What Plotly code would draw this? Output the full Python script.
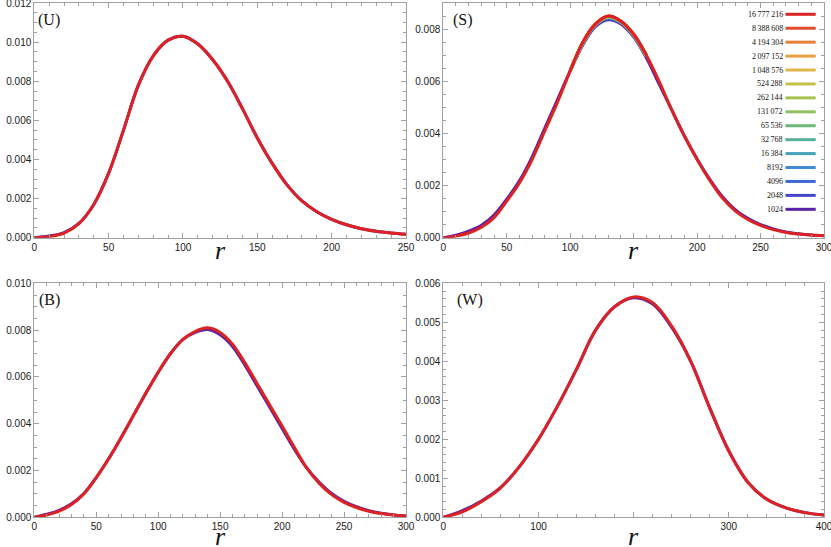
import plotly.graph_objects as go

# ---------------- data ----------------
sizes = ["1024", "2048", "4096", "8192", "16\u2009384", "32\u2009768", "65\u2009536", "131\u2009072",
         "262\u2009144", "524\u2009288", "1\u2009048\u2009576", "2\u2009097\u2009152", "4\u2009194\u2009304",
         "8\u2009388\u2009608", "16\u2009777\u2009216"]
colors = ["#5a22a8", "#4646c8", "#3a6ad6", "#3f8ad2", "#45a2ba", "#52b29a", "#6cb878", "#8ec05e",
          "#a8c44e", "#c6c046", "#e0b646", "#eaa040", "#e88038", "#e04c2c", "#dc2222"]

# (U)
U_r = [0, 10, 20, 30, 40, 50, 60, 70, 80, 90, 100, 110, 120, 130, 140, 150, 160, 170, 180, 190,
       200, 210, 220, 230, 240, 250]
U_big = [0, 0.00005, 0.00023, 0.00072, 0.0017, 0.0033, 0.0055, 0.0078, 0.0093, 0.0101, 0.0103,
         0.0099, 0.0091, 0.0080, 0.0066, 0.0051, 0.0038, 0.0027, 0.00188, 0.00133, 0.00094,
         0.00066, 0.00046, 0.00033, 0.00024, 0.00017]
U_small = [0, 0.00009, 0.00026, 0.00073, 0.0017, 0.0033, 0.0055, 0.0078, 0.0093, 0.0101, 0.0103,
           0.0099, 0.0091, 0.0080, 0.0066, 0.0051, 0.0038, 0.0027, 0.00188, 0.00133, 0.00094,
           0.00066, 0.00046, 0.00033, 0.00024, 0.00017]

# (S)
S_r = [0, 10, 20, 30, 40, 50, 60, 70, 80, 90, 100, 110, 120, 130, 140, 150, 160, 170, 180, 190,
       200, 210, 220, 230, 240, 250, 260, 270, 280, 290, 300]
S_big = [0, 0.00006, 0.00018, 0.0004, 0.00077, 0.0014, 0.0021, 0.0030, 0.0041, 0.0052, 0.0064,
         0.0075, 0.0082, 0.0085, 0.0083, 0.0078, 0.0070, 0.0060, 0.0049, 0.0039, 0.0030, 0.0022,
         0.00152, 0.00103, 0.0007, 0.00047, 0.00031, 0.0002, 0.00014, 0.0001, 0.00007]
S_small = [0, 0.0001, 0.00025, 0.00048, 0.00087, 0.00148, 0.00218, 0.0031, 0.0042, 0.0053, 0.0064,
           0.0074, 0.0081, 0.00836, 0.0082, 0.0077, 0.0069, 0.0059, 0.0049, 0.0039, 0.00302,
           0.00224, 0.00157, 0.00108, 0.00074, 0.0005, 0.00034, 0.00022, 0.00015, 0.0001, 0.00007]
S_mid_r = [100, 110, 120, 130, 140, 150, 160]
S_mid = [
    [0.0064, 0.00742, 0.00813, 0.00839, 0.00822, 0.00772, 0.00692],
    [0.0064, 0.00744, 0.00815, 0.00841, 0.00824, 0.00774, 0.00694],
    [0.0064, 0.00745, 0.00816, 0.00843, 0.00825, 0.00775, 0.00695],
    [0.0064, 0.00746, 0.00817, 0.00844, 0.00826, 0.00776, 0.00696],
    [0.0064, 0.00747, 0.00818, 0.00845, 0.00827, 0.00777, 0.00697],
    [0.0064, 0.00748, 0.00818, 0.00846, 0.00828, 0.00778, 0.00698],
    [0.0064, 0.00748, 0.00819, 0.00847, 0.00828, 0.00778, 0.00698],
    [0.0064, 0.00749, 0.00819, 0.00847, 0.00829, 0.00779, 0.00699],
    [0.0064, 0.00749, 0.00819, 0.00848, 0.00829, 0.00779, 0.00699],
    [0.0064, 0.0075, 0.0082, 0.00848, 0.0083, 0.0078, 0.0070],
    [0.0064, 0.0075, 0.0082, 0.00849, 0.0083, 0.0078, 0.0070],
    [0.0064, 0.0075, 0.0082, 0.00849, 0.0083, 0.0078, 0.0070],
    [0.0064, 0.0075, 0.0082, 0.0085, 0.0083, 0.0078, 0.0070],
]

# (B)
B_r = [0, 10, 20, 30, 40, 50, 60, 70, 80, 90, 100, 110, 120, 130, 140, 150, 160, 170, 180, 190,
       200, 210, 220, 230, 240, 250, 260, 270, 280, 290, 300]
B_big = [0, 0.0001, 0.00026, 0.00055, 0.001, 0.0017, 0.0025, 0.0034, 0.00435, 0.0053, 0.0062,
         0.0070, 0.0076, 0.00795, 0.0081, 0.0079, 0.0074, 0.0066, 0.0057, 0.0048, 0.0039, 0.00298,
         0.0021, 0.00145, 0.00097, 0.00064, 0.00042, 0.00026, 0.00016, 0.0001, 0.00006]
B_small = [0, 0.00013, 0.0003, 0.00058, 0.00102, 0.0017, 0.0025, 0.0034, 0.00435, 0.0053, 0.0062,
           0.0070, 0.0076, 0.0079, 0.00802, 0.0078, 0.0073, 0.0065, 0.0056, 0.0047, 0.0038, 0.0029,
           0.0021, 0.0015, 0.00102, 0.00068, 0.00045, 0.00028, 0.00017, 0.0001, 0.00006]

# (W)
W_r = [0, 20, 40, 60, 80, 100, 120, 140, 160, 180, 200, 220, 240, 260, 280, 300, 320, 340, 360,
       380, 400]
W_big = [0, 0.00014, 0.0004, 0.00075, 0.0013, 0.0020, 0.00285, 0.0038, 0.0048, 0.0054, 0.00565,
         0.0055, 0.0049, 0.0040, 0.0028, 0.0017, 0.0009, 0.00046, 0.00024, 0.00012, 0.00006]
W_small = [0, 0.00017, 0.00042, 0.00076, 0.0013, 0.0020, 0.00285, 0.0038, 0.0048, 0.0054, 0.00563,
           0.00547, 0.00487, 0.0040, 0.0028, 0.0017, 0.0009, 0.00046, 0.00024, 0.00012, 0.00006]

# x tick labels (the one under the axis symbol r is not printed in S and W)
U_xticks = [0, 50, 100, 150, 200, 250]
S_xticks = [0, 50, 100, 150, 200, 250, 300]
S_xlabels = ["0", "50", "100", "", "200", "250", "300"]
B_xticks = [0, 50, 100, 150, 200, 250, 300]
W_xticks = [0, 100, 200, 300, 400]
W_xlabels = ["0", "100", "", "300", "400"]

# ---------------- figure ----------------
W_PX, H_PX = 831, 547
fig = go.Figure()

LW = 3

def add(r, y, color, xa, ya):
    fig.add_trace(go.Scatter(x=r, y=y, mode="lines",
                             line=dict(color=color, width=LW, shape="spline", smoothing=1.0),
                             xaxis=xa, yaxis=ya, showlegend=False, hoverinfo="skip"))

panels = [("x", "y", U_r, U_small, U_big), ("x2", "y2", S_r, S_small, S_big),
          ("x3", "y3", B_r, B_small, B_big), ("x4", "y4", W_r, W_small, W_big)]
for xa, ya, r, ys, yb in panels:
    add(r, ys, colors[0], xa, ya)
    if xa == "x2":
        for i, vals in enumerate(S_mid):
            add(S_mid_r, vals, colors[i + 1], xa, ya)
    add(r, yb, colors[-1], xa, ya)

def px_x(p):
    return p / W_PX

def px_y(p):
    return 1 - p / H_PX

left = [px_x(34.3), px_x(406)]
right = [px_x(443.3), px_x(824)]
top = [px_y(237.7), px_y(3)]
bot = [px_y(517.3), px_y(283.3)]

frame = "#a0a0a0"
tickfont = dict(family="Liberation Sans, Arial, sans-serif", size=10, color="#1a1a1a")

def base(domain, anchor, rng, minor):
    return dict(domain=domain, anchor=anchor, range=rng, automargin=False, ticklabeloverflow="allow",
                showline=True, linecolor=frame, linewidth=1, mirror="ticks",
                ticks="inside", ticklen=5, tickcolor=frame, tickwidth=1,
                minor=dict(dtick=minor, tick0=0, ticks="inside", ticklen=3, tickcolor=frame, tickwidth=1),
                showgrid=False, zeroline=False, tickfont=tickfont, fixedrange=True)

def xax(domain, anchor, rng, vals, labels, minor):
    d = base(domain, anchor, rng, minor)
    d.update(tickmode="array", tickvals=vals, ticktext=labels)
    return d

def yax(domain, anchor, rng, dtick, minor):
    d = base(domain, anchor, rng, minor)
    d.update(dtick=dtick, tick0=0, tickformat=".3f")
    return d

fig.update_layout(
    width=W_PX, height=H_PX, margin=dict(l=0, r=0, t=0, b=0),
    paper_bgcolor="white", plot_bgcolor="white",
    xaxis=xax(left, "y", [0, 250], U_xticks, [str(v) for v in U_xticks], 10),
    yaxis=yax(top, "x", [0, 0.012], 0.002, 0.0005),
    xaxis2=xax(right, "y2", [0, 300], S_xticks, S_xlabels, 10),
    yaxis2=yax(top, "x2", [0, 0.009], 0.002, 0.0005),
    xaxis3=xax(left, "y3", [0, 300], B_xticks, [str(v) for v in B_xticks], 10),
    yaxis3=yax(bot, "x3", [0, 0.010], 0.002, 0.0005),
    xaxis4=xax(right, "y4", [0, 400], W_xticks, W_xlabels, 20),
    yaxis4=yax(bot, "x4", [0, 0.006], 0.001, 0.0002),
)

ann = []
serif = "Liberation Serif, Times New Roman, serif"
for text, cx, cy in [("(U)", 48.5, 20), ("(S)", 463, 20), ("(B)", 49, 300), ("(W)", 469.5, 300)]:
    ann.append(dict(text=text, x=px_x(cx), y=px_y(cy), xref="paper", yref="paper", showarrow=False,
                    xanchor="center", yanchor="middle", font=dict(family=serif, size=16, color="#111")))
for cx, cy in [((34.3 + 406) / 2, 250), ((443.3 + 824) / 2, 250),
               ((34.3 + 406) / 2, 536), ((443.3 + 824) / 2, 536)]:
    ann.append(dict(text="<i>r</i>", x=px_x(cx), y=px_y(cy), xref="paper", yref="paper", showarrow=False,
                    xanchor="center", yanchor="middle", font=dict(family=serif, size=26, color="#111")))

# legend (drawn manually: label to the left of the line sample)
shapes = []
n = len(sizes)
for k in range(n):
    idx = n - 1 - k
    yy = 14.3 + k * 13.93
    shapes.append(dict(type="line", xref="paper", yref="paper", x0=px_x(785.5), x1=px_x(815.7),
                       y0=px_y(yy), y1=px_y(yy), line=dict(color=colors[idx], width=3)))
    ann.append(dict(text=sizes[idx], x=px_x(785), y=px_y(yy), xref="paper", yref="paper", showarrow=False,
                    xanchor="right", yanchor="middle", font=dict(family=serif, size=8, color="#111")))

fig.update_layout(annotations=ann, shapes=shapes)
fig.write_html("out.html", config={"displayModeBar": False, "staticPlot": True},
               post_script="document.body.style.margin='0';document.body.style.overflow='hidden';")
